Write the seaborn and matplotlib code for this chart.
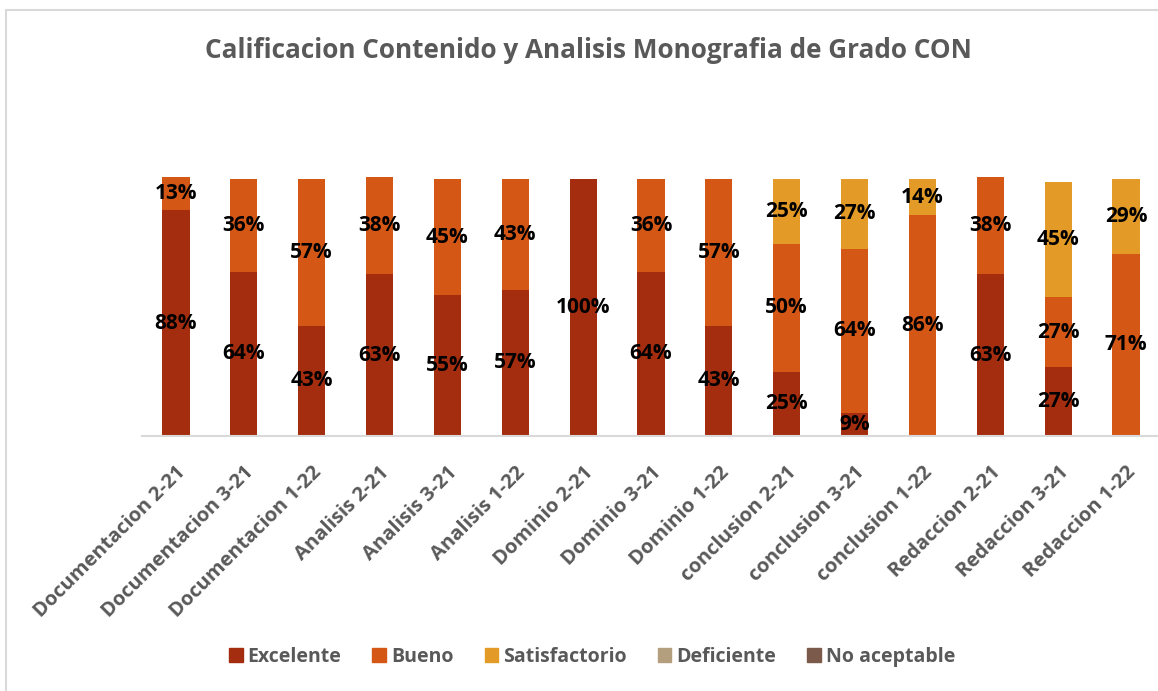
import matplotlib
matplotlib.use("Agg")
import matplotlib.pyplot as plt
import matplotlib.patches as mpatches
import matplotlib.lines as mlines
import seaborn as sns
import numpy as np
import pandas as pd

categories = ["Documentacion 2-21", "Documentacion 3-21", "Documentacion 1-22",
              "Analisis 2-21", "Analisis 3-21", "Analisis 1-22",
              "Dominio 2-21", "Dominio 3-21", "Dominio 1-22",
              "conclusion 2-21", "conclusion 3-21", "conclusion 1-22",
              "Redaccion 2-21", "Redaccion 3-21", "Redaccion 1-22"]
excelente     = [88, 64, 43, 63, 55, 57, 100, 64, 43, 25, 9, 0, 63, 27, 0]
bueno         = [13, 36, 57, 38, 45, 43, 0, 36, 57, 50, 64, 86, 38, 27, 71]
satisfactorio = [0, 0, 0, 0, 0, 0, 0, 0, 0, 25, 27, 14, 0, 45, 29]
deficiente    = [0] * 15
no_aceptable  = [0] * 15

series_names = ["Excelente", "Bueno", "Satisfactorio", "Deficiente", "No aceptable"]
series_vals = [excelente, bueno, satisfactorio, deficiente, no_aceptable]
colors = ["#A52D0F", "#D55716", "#E39A26", "#B39E7E", "#7B5A4B"]
title = "Calificacion Contenido y Analisis Monografia de Grado CON"

sns.set_theme(style="white")
plt.rcParams['font.family'] = ['Open Sans', 'DejaVu Sans']
gray = "#595959"

fig = plt.figure(figsize=(11.58, 6.91), dpi=100)
W, H = 1158, 691
ax = fig.add_axes([142 / W, (H - 436) / H, 1018 / W, 308 / H])

df = pd.DataFrame({"cat": categories})
vals = np.array(series_vals, dtype=float)
cum = np.cumsum(vals, axis=0)

# draw cumulative stacks from top series down so lower ones overlay
for k in range(len(series_names) - 1, -1, -1):
    df["v"] = cum[k]
    sns.barplot(data=df, x="cat", y="v", color=colors[k], width=0.4,
                saturation=1, ax=ax, linewidth=0, errorbar=None)

# labels
for k in range(len(series_names)):
    for i in range(len(categories)):
        v = vals[k, i]
        if v > 0:
            bottom = cum[k, i] - v
            ax.text(i, bottom + v / 2, f"{int(v)}%", ha="center", va="center",
                    fontsize=15, fontweight="bold", color="black")

ax.set_xlim(-0.5, len(categories) - 0.5)
ax.set_ylim(0, 120)
ax.set_xlabel("")
ax.set_ylabel("")
ax.set_yticks([])
for s in ["top", "right", "left"]:
    ax.spines[s].set_visible(False)
ax.spines["bottom"].set_color("#D9D9D9")
ax.spines["bottom"].set_linewidth(1.5)
ax.tick_params(axis="x", length=0, pad=19)
ax.set_xticks(range(len(categories)))
ax.set_xticklabels(categories, rotation=45, ha="right", rotation_mode="anchor",
                   fontsize=14.5, color=gray, fontweight="bold")

fig.text(588 / W, 1 - 51 / H, title, ha="center", va="center",
         fontsize=18.8, fontweight="bold", color=gray)

handles = [mpatches.Patch(color=c, label=n) for c, n in zip(colors, series_names)]
leg = fig.legend(handles=handles, loc="center", bbox_to_anchor=(592 / W, 1 - 657 / H),
                 ncol=5, frameon=False, handlelength=0.7, handleheight=0.7,
                 handletextpad=0.25, columnspacing=1.6, prop={"size": 14, "weight": "bold"})
for t in leg.get_texts():
    t.set_color(gray)

# chart border
fig.add_artist(mlines.Line2D([6 / W, 6 / W], [0, 1 - 10 / H], color="#D9D9D9", lw=1.5,
                             transform=fig.transFigure))
fig.add_artist(mlines.Line2D([6 / W, 1], [1 - 10 / H, 1 - 10 / H], color="#D9D9D9", lw=1.5,
                             transform=fig.transFigure))

fig.savefig("out.png", dpi=100)
